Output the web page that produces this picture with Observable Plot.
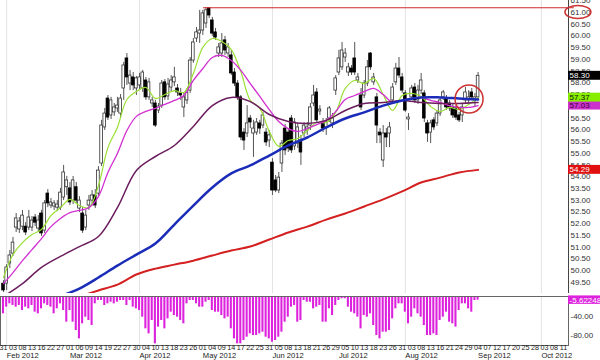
<!DOCTYPE html>
<html><head><meta charset="utf-8">
<script src="https://cdn.jsdelivr.net/npm/d3@7"></script>
<script src="https://cdn.jsdelivr.net/npm/@observablehq/plot@0.6"></script>
<style>
html,body{margin:0;padding:0;background:#fff;}
#chart{width:600px;height:360px;overflow:hidden;position:relative;background:#fff;}
#chart svg{display:block;}
</style></head><body><div id="chart"></div>
<script>
// ---- daily OHLC (trading-day index 0 = 31 Jan 2012 ... 150 = 04 Sep 2012)
const opens = [49.44,49.44,50.30,50.72,51.83,51.75,51.87,51.87,51.83,51.83,
52.26,51.79,52.43,51.70,53.28,52.77,52.73,52.68,52.68,53.11,
53.55,53.50,52.98,53.55,52.64,52.43,51.83,52.77,52.98,53.20,
53.28,54.56,56.10,57.33,56.61,56.74,56.91,56.69,57.76,59.04,
57.97,58.23,57.76,57.89,57.76,58.10,57.38,57.12,57.12,56.82,
57.03,58.02,57.42,57.80,58.02,57.76,57.55,56.95,57.25,57.67,
58.95,59.89,60.10,60.23,60.53,61.17,60.66,60.15,59.25,59.25,
59.81,59.25,59.17,58.44,57.97,57.38,55.88,55.84,56.48,55.84,
55.88,56.27,56.18,55.88,55.54,54.60,53.84,53.41,54.56,56.05,
55.88,56.48,55.29,55.41,55.54,55.84,55.97,56.18,57.12,57.59,
56.78,56.31,56.10,56.48,56.27,57.67,58.44,58.66,59.08,58.44,
58.61,59.04,58.10,57.46,57.46,57.97,59.25,58.02,57.38,55.88,
54.69,55.84,55.84,57.25,58.02,58.61,58.23,57.55,56.44,57.38,
57.80,57.25,57.67,57.55,56.27,55.88,56.40,56.27,56.69,57.38,
57.33,57.12,56.95,56.91,56.61,56.61,57.25,57.25,57.59,57.25,
57.38];
const highs = [49.57,50.25,50.85,51.41,52.43,52.26,52.56,52.04,52.56,52.30,
52.39,52.34,52.56,52.98,53.45,53.07,52.98,52.98,53.50,54.48,
54.01,53.75,54.01,53.75,53.15,52.68,52.56,53.20,53.41,53.45,
54.43,56.40,56.91,57.46,57.38,57.12,57.38,57.50,58.87,59.25,
58.53,58.44,58.27,58.40,58.53,58.23,58.19,57.38,57.25,57.12,
58.10,58.14,58.19,58.31,58.66,57.93,57.76,57.55,57.76,59.08,
59.89,60.36,61.09,61.09,61.21,61.21,60.79,60.32,59.68,60.10,
59.98,59.68,59.38,58.61,58.10,57.46,56.05,57.03,56.61,56.40,
56.48,56.40,56.74,56.05,55.97,54.77,54.05,54.18,55.54,56.22,
56.05,56.61,56.48,56.27,55.76,56.31,56.31,57.12,57.89,57.76,
57.03,56.48,56.48,56.99,56.69,58.31,59.38,59.72,59.46,58.83,
58.74,59.72,58.40,57.76,58.10,58.95,59.29,58.40,57.55,56.05,
56.18,56.05,56.31,57.97,58.83,59.08,58.40,57.67,56.69,57.89,
57.97,57.89,58.40,57.67,56.40,56.40,56.52,56.82,57.38,57.67,
57.46,57.25,57.08,57.03,56.74,57.12,57.80,57.67,57.76,57.55,
58.44];
const lows = [49.06,49.15,50.08,50.60,51.62,51.58,51.70,51.49,51.70,51.66,
51.87,51.62,51.45,51.58,52.68,52.64,52.56,52.51,52.56,52.98,
53.20,52.77,52.81,52.86,52.47,51.58,51.70,52.56,52.81,52.64,
53.15,54.43,55.97,56.40,56.44,56.57,56.74,56.48,57.25,57.89,
57.67,57.67,57.46,57.67,57.59,57.25,57.25,56.95,56.10,56.69,
56.91,57.25,57.25,57.59,57.84,57.42,57.25,56.52,57.08,57.55,
58.83,59.72,59.68,60.02,60.32,60.74,59.98,59.81,59.08,59.08,
59.17,59.08,58.31,57.84,57.25,55.54,55.12,55.67,56.05,54.82,
55.76,55.80,56.05,55.29,55.24,53.20,53.32,53.28,54.18,54.90,
55.03,54.99,55.12,55.20,54.48,55.67,55.76,55.97,56.99,56.27,
56.61,55.88,55.76,56.31,56.05,57.46,58.31,58.53,58.87,58.27,
58.31,58.31,57.97,56.82,57.33,57.84,58.53,57.89,55.41,55.41,
54.39,55.24,55.24,57.12,57.89,58.19,57.55,56.74,55.97,57.25,
57.12,57.08,57.50,56.31,55.46,55.41,55.97,56.14,56.57,57.25,
56.82,56.78,56.48,56.40,56.31,56.31,57.12,57.12,57.25,56.95,
57.25];
const closes = [49.15,50.13,50.64,51.19,52.22,52.09,52.34,51.62,52.26,52.13,
52.04,52.13,51.58,52.86,52.86,52.90,52.86,52.81,53.32,54.18,
53.84,52.90,53.84,52.98,52.98,51.70,52.34,52.98,53.20,52.77,
54.26,56.18,56.69,56.52,57.25,56.95,57.03,57.33,58.74,58.23,
58.31,57.89,58.19,58.23,58.44,57.38,58.02,57.25,56.18,56.99,
57.97,57.38,57.93,58.10,58.23,57.59,57.46,57.38,57.59,58.95,
59.72,60.15,60.23,60.96,61.09,60.87,60.10,59.93,59.51,59.68,
59.38,59.51,58.40,57.97,57.38,55.67,55.54,56.27,56.31,56.05,
56.31,56.05,56.61,55.46,55.76,53.41,53.41,53.96,55.41,55.12,
55.20,55.12,56.31,56.10,55.03,56.18,56.10,56.95,57.46,56.40,
56.86,56.05,56.31,56.91,56.48,58.19,59.04,59.38,59.25,58.66,
58.44,58.44,58.23,56.95,57.97,58.66,58.66,58.23,56.18,55.76,
55.84,55.67,56.10,57.80,58.61,58.31,57.67,56.82,56.52,57.76,
57.25,57.67,58.10,56.48,55.84,56.27,56.10,56.69,57.25,57.59,
56.95,56.91,56.61,56.52,56.40,56.95,57.59,57.38,57.38,57.38,
58.30];

// ---- moving averages (index, value)
const fastIdx = [0,3,6,9,12,15,18,21,24,27,30,33,36,39,42,45,48,51,54,57,60,63,66,69,72,75,78,81,84,87,90,93,96,99,102,105,108,111,114,117,120,123,126,129,132,135,138,141,144,147,150];
const greenMA = [49.70,50.68,51.19,51.53,51.75,52.34,52.68,53.03,52.77,52.68,
53.62,55.24,56.10,57.29,57.63,57.80,57.33,57.50,57.67,57.59,
58.40,59.51,59.89,59.76,59.42,58.48,57.25,56.91,55.93,55.29,
55.54,55.63,55.97,56.31,56.31,56.74,57.76,58.10,57.97,58.19,
57.50,56.82,57.46,57.55,57.42,56.99,56.78,56.95,56.86,57.08,
57.37];
const magentaMA = [49.44,49.91,50.42,50.89,51.36,51.87,52.22,52.47,52.56,52.68,
53.15,54.18,54.99,55.97,56.57,56.78,56.91,57.08,57.25,57.46,
58.10,58.61,59.08,59.17,58.95,58.53,57.97,57.42,56.86,56.35,
56.05,55.93,56.05,56.22,56.40,56.78,57.29,57.46,57.63,57.76,
57.50,57.16,57.25,57.33,57.38,57.25,57.16,57.03,56.95,56.95,
57.03];
const purpleIdx = [0,6,12,18,24,30,36,42,48,54,60,66,72,78,84,90,96,102,108,114,120,126,132,138,144,150];
const purpleMA = [48.89,49.44,50.13,50.60,51.02,51.45,52.68,54.26,54.86,55.33,56.14,57.03,57.38,57.20,56.65,56.35,56.27,56.40,56.82,57.12,57.16,57.25,57.16,57.12,57.12,57.16];
const blueIdx = [12,18,24,30,36,42,48,54,60,66,72,78,84,90,96,102,108,114,120,126,132,138,144,150];
const blueMA = [48.42,48.89,49.23,49.70,50.21,50.68,51.15,51.96,52.77,53.54,54.14,54.48,54.90,55.33,55.67,56.10,56.48,56.74,57.03,57.25,57.38,57.38,57.33,57.29];
const redIdx = [24,30,36,42,48,54,60,66,72,78,84,90,96,102,108,114,120,126,132,138,144,150];
const redMA = [48.89,49.15,49.40,49.83,50.08,50.25,50.42,50.64,50.85,51.02,51.32,51.62,51.87,52.17,52.43,52.73,53.03,53.37,53.75,53.96,54.18,54.29];

// ---- lower panel oscillator
const osc = [-34.8,-20.6,-13.5,-17,-20.6,-17,-27.7,-20.6,-24.2,-17,
-31.3,-34.8,-24.2,-13.5,-17,-20.6,-34.8,-24.2,-13.5,-27.7,
-52.6,-27.7,-52.6,-70.4,-88.2,-56.1,-41.9,-49,-59.7,-13.5,
-6.4,-6.4,-17,-13.5,-10,-13.5,-10,-6.4,-6.4,-17,
-6.4,-20.6,-24.2,-27.7,-41.9,-66.8,-77.5,-49,-98.8,-63.2,
-49,-66.8,-45.5,-31.3,-38.4,-41.9,-49,-56.1,-13.5,-6.4,
-6.4,-13.5,-20.6,-20.6,-10,-6.4,-27.7,-31.3,-31.3,-38.4,
-45.5,-41.9,-66.8,-88.2,-98.8,-98.8,-91.7,-84.6,-77.5,-81,
-81,-77.5,-73.9,-84.6,-88.2,-95.3,-91.7,-84.6,-73.9,-52.6,
-41.9,-20.6,-17,-52.6,
-49,-6.4,-10,-10,-24.2,-20.6,-17,-52.6,-52.6,-24.2,
-38.4,-17,-6.4,-2.8,-2.8,-20.6,-31.3,-34.8,-41.9,-66.8,
-38.4,-41.9,-34.8,-59.7,-81,-88.2,-73.9,-73.9,-70.4,-45.5,
-24.2,-13.5,-13.5,-31.3,-56.1,-41.9,-24.2,-34.8,-41.9,-59.7,
-81,-81,-77.5,-81,-49,-41.9,-31.3,-52.6,-56.1,-63.2,
-27.7,-13.5,-13.5,-24.2,-31.3,-6.4,
-5.62];
const oscLast = "-5.62248";
const oscTicks = [-40, -80];

// ---- axes / labels
const priceTicks = [49.5,50,50.5,51,51.5,52,52.5,53,53.5,54,54.5,55,55.5,56,56.5,57,57.5,58,58.5,59,59.5,60,60.5,61,61.5];
const dayTickIdx = [0,3,6,9,12,15,18,21,24,27,30,33,36,39,42,45,48,51,54,57,60,63,66,69,72,75,78,81,84,87,90,93,96,99,102,105,108,111,114,117,120,123,126,129,132,135,138,141,144,147,150,153,156,159,162,165,168,171,174,177];
const dayLabels = ["31","03","08","13","16","22","27","01","06","09","14","19","22","27","30","04","10","13","18","23","26","01","04","09","14","17","22","25","31","05","08","13","18","21","26","29","05","10","13","18","23","26","31","03","08","13","16","21","24","29","04","07","12","17","20","25","28","03","08","11"];
const monthIdx = [1,21,43,63,85,106,127,150,170];
const monthLabels = ["Feb 2012","Mar 2012","Apr 2012","May 2012","Jun 2012","Jul 2012","Aug 2012","Sep 2012","Oct 2012"];
const gridIdx = [1,43,85,127,170];
const priceLabels = [
  {v:57.03, text:"57.03", fill:"#cc33cc", color:"#3a003a"},
  {v:57.37, text:"57.37", fill:"#88ee00", color:"#111"},
  {v:58.30, text:"58.30", fill:"#000000", color:"#fff"},
  {v:54.29, text:"54.29", fill:"#e01010", color:"#fff"}
];
const resistance = [{y:61.2, x1:63.2, x2:180.4}];
const labelRing = {i:181.7, v:61.0, rx:13, ry:6.5};
const lastRing = {i:147.3, v:57.29, rx:14, ry:14};

// ---- build
const X0 = -0.95, X1 = 178.57, XL = X1 + 10.2;
const candles = opens.map((o,i)=>({i, open:o, high:highs[i], low:lows[i], close:closes[i]}));
const up = candles.filter(d=>d.close>=d.open), down = candles.filter(d=>d.close<d.open);
const toPts = (idx, vals) => idx.map((i,k)=>({i, v:vals[k]}));
const dayMap = new Map(dayTickIdx.map((d,k)=>[d, dayLabels[k]]));
const font = "'Liberation Sans', Arial, sans-serif";

const labelMarks = priceLabels.flatMap(d => [
  Plot.rect([d], {x1: ()=>X1, x2: ()=>XL, y1: e=>e.v-0.19, y2: e=>e.v+0.19, fill: d.fill}),
  Plot.text([d], {x: ()=>X1+0.35, y:"v", text:"text", textAnchor:"start", fill:d.color, fontSize:8})
]);

const main = Plot.plot({
  width:600, height:293, marginTop:0, marginBottom:0, marginLeft:0, marginRight:32,
  style:{fontFamily:font, fontSize:"8px", color:"#333", background:"#fff"},
  x:{domain:[X0,X1], axis:null},
  y:{domain:[49.02,61.51], axis:null},
  marks:[
    Plot.ruleX(gridIdx, {x:d=>d, stroke:"#e3e3e3"}),
    Plot.ruleX(candles, {x:"i", y1:"low", y2:"high", stroke:"#555", strokeWidth:1}),
    Plot.rect(up, {x1:d=>d.i-0.42, x2:d=>d.i+0.42, y1:"open", y2:"close", fill:"#fff", stroke:"#333", strokeWidth:0.8}),
    Plot.rect(down, {x1:d=>d.i-0.42, x2:d=>d.i+0.42, y1:"open", y2:"close", fill:"#000", stroke:"#000", strokeWidth:0.8}),
    Plot.line(toPts(redIdx, redMA), {x:"i", y:"v", stroke:"#d42020", strokeWidth:2, curve:"catmull-rom", clip:true}),
    Plot.line(toPts(fastIdx, greenMA), {x:"i", y:"v", stroke:"#99e033", strokeWidth:1.2, curve:"catmull-rom", clip:true}),
    Plot.line(toPts(fastIdx, magentaMA), {x:"i", y:"v", stroke:"#d22fd2", strokeWidth:1.3, curve:"catmull-rom", clip:true}),
    Plot.line(toPts(purpleIdx, purpleMA), {x:"i", y:"v", stroke:"#6b1d5e", strokeWidth:1.5, curve:"catmull-rom", clip:true}),
    Plot.line(toPts(blueIdx, blueMA), {x:"i", y:"v", stroke:"#1b2db8", strokeWidth:2.5, curve:"catmull-rom", clip:true}),
    Plot.ruleY(resistance, {y:"y", x1:"x1", x2:"x2", stroke:"#d02828", strokeWidth:1.2}),
    Plot.ruleX([X1], {x:d=>d, stroke:"#444"}),
    Plot.ruleY([49.02], {y:d=>d, x1:()=>X0, x2:()=>XL, stroke:"#999"}),
    Plot.axisY({anchor:"right", ticks:priceTicks, tickFormat:d=>d.toFixed(2), tickSize:0, tickPadding:2, label:null}),
    ...labelMarks
  ]
});

const sub = Plot.plot({
  width:600, height:67, marginTop:3, marginBottom:15, marginLeft:0, marginRight:32,
  style:{fontFamily:font, fontSize:"8px", color:"#333", background:"#fff", overflow:"visible"},
  x:{domain:[X0,X1], axis:null},
  y:{domain:[-102.3,2.13], axis:null},
  marks:[
    Plot.ruleX(gridIdx, {x:d=>d, stroke:"#e3e3e3"}),
    Plot.rect(osc.map((v,i)=>({i,v})), {x1:d=>d.i-0.33, x2:d=>d.i+0.33, y1:()=>0, y2:"v", fill:"#dd22dd"}),
    Plot.frame({stroke:"#666"}),
    Plot.axisY({anchor:"right", ticks:oscTicks, tickFormat:d=>d.toFixed(2), tickSize:0, tickPadding:2, label:null}),
    Plot.rect([{v:osc[osc.length-1]}], {x1:()=>X1, x2:()=>XL, y1:d=>d.v-9, y2:d=>d.v+9, fill:"#dd22dd"}),
    Plot.text([{v:osc[osc.length-1]}], {x:()=>X1+0.35, y:"v", text:()=>oscLast, textAnchor:"start", fill:"#fff", fontSize:8}),
    Plot.text(dayTickIdx, {x:d=>d, text:d=>dayMap.get(d), frameAnchor:"bottom", dy:4.5, fontSize:7.2, fill:"#222"}),
    Plot.text(monthIdx, {x:d=>d, text:(d)=>monthLabels[monthIdx.indexOf(d)], frameAnchor:"bottom", dy:12.2, textAnchor:"start", fontSize:7.6, fill:"#222"})
  ]
});

const root = document.getElementById("chart");
root.appendChild(main);
root.appendChild(sub);

// annotation rings placed through the plot's own scales
const sx = main.scale("x"), sy = main.scale("y");
const svg = d3.select(main);
for (const r of [lastRing, labelRing]) {
  svg.append("ellipse")
    .attr("cx", sx.apply(r.i)).attr("cy", sy.apply(r.v))
    .attr("rx", r.rx).attr("ry", r.ry)
    .attr("fill", "none").attr("stroke", "#cc3333").attr("stroke-width", 1.5);
}
</script></body></html>
